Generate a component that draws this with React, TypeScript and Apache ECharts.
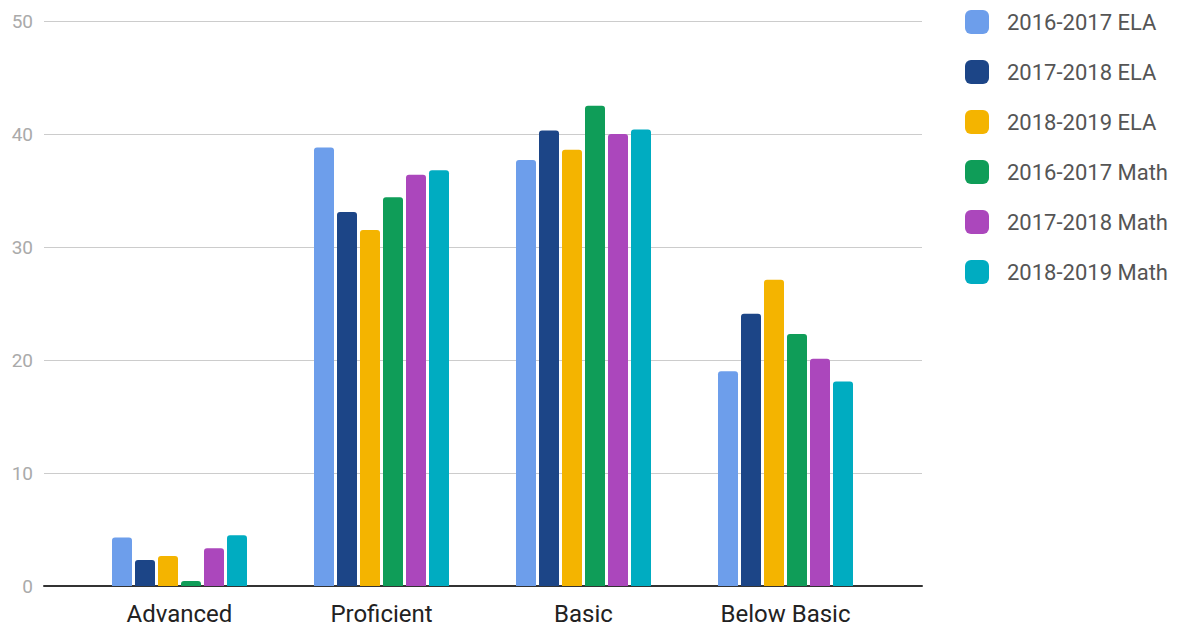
import React, { useEffect, useRef } from "react";
import * as echarts from "echarts";

const categories = ["Advanced", "Proficient", "Basic", "Below Basic"];
const seriesNames = [
  "2016-2017 ELA",
  "2017-2018 ELA",
  "2018-2019 ELA",
  "2016-2017 Math",
  "2017-2018 Math",
  "2018-2019 Math",
];
const ela1617 = [4.3, 38.8, 37.7, 19.0];
const ela1718 = [2.3, 33.1, 40.3, 24.1];
const ela1819 = [2.65, 31.5, 38.6, 27.1];
const math1617 = [0.45, 34.4, 42.5, 22.3];
const math1718 = [3.35, 36.4, 40.0, 20.1];
const math1819 = [4.5, 36.8, 40.4, 18.1];
const seriesValues = [ela1617, ela1718, ela1819, math1617, math1718, math1819];
const colors = ["#6d9eeb", "#1c4587", "#f4b400", "#0f9d58", "#ab47bc", "#00acc1"];
const yMin = 0;
const yMax = 50;
const yInterval = 10;

export default function App() {
  const ref = useRef<HTMLDivElement>(null);
  useEffect(() => {
    if (!ref.current) return;
    const chart = echarts.init(ref.current, undefined, { renderer: "svg" });
    const font = "Roboto";
    chart.setOption({
      animation: false,
      color: colors,
      textStyle: { fontFamily: font },
      grid: [
        { left: 44, right: 258, top: 21, bottom: 45 },
        { left: 78.5, right: 293.5, top: 21, bottom: 45 },
      ],
      xAxis: [
        {
          type: "value",
          gridIndex: 0,
          min: 0,
          max: 1,
          axisLine: { show: true, lineStyle: { color: "#333", width: 2 } },
          axisTick: { show: false },
          axisLabel: { show: false },
          splitLine: { show: false },
        },
        {
          type: "category",
          gridIndex: 1,
          data: categories,
          axisLine: { show: false },
          axisTick: { show: false },
          axisLabel: { color: "#222", fontSize: 24, margin: 16, fontFamily: font },
        },
      ],
      yAxis: [
        {
          type: "value",
          gridIndex: 0,
          min: yMin,
          max: yMax,
          interval: yInterval,
          axisLine: { show: false },
          axisTick: { show: false },
          axisLabel: { color: "#aaa", fontSize: 19, margin: 11, fontFamily: font },
          splitLine: { lineStyle: { color: "#ccc", width: 1 } },
        },
        {
          type: "value",
          gridIndex: 1,
          min: yMin,
          max: yMax,
          interval: yInterval,
          show: false,
          splitLine: { show: false },
        },
      ],
      legend: {
        orient: "vertical",
        left: 960,
        top: 5,
        itemWidth: 24,
        itemHeight: 24,
        itemGap: 26,
        icon: "roundRect",
        data: seriesNames,
        textStyle: { color: "#555", fontSize: 22, fontFamily: font, padding: [0, 0, 0, 13] },
      },
      series: seriesNames.map((name, i) => ({
        name,
        type: "bar",
        xAxisIndex: 1,
        yAxisIndex: 1,
        data: seriesValues[i],
        barWidth: 20,
        barGap: "15%",
        itemStyle: { borderRadius: [3, 3, 0, 0] },
      })),
    });
    return () => chart.dispose();
  }, []);
  return (
    <div
      ref={ref}
      style={{ position: "absolute", left: 0, top: 0, width: 1180, height: 631 }}
    />
  );
}
